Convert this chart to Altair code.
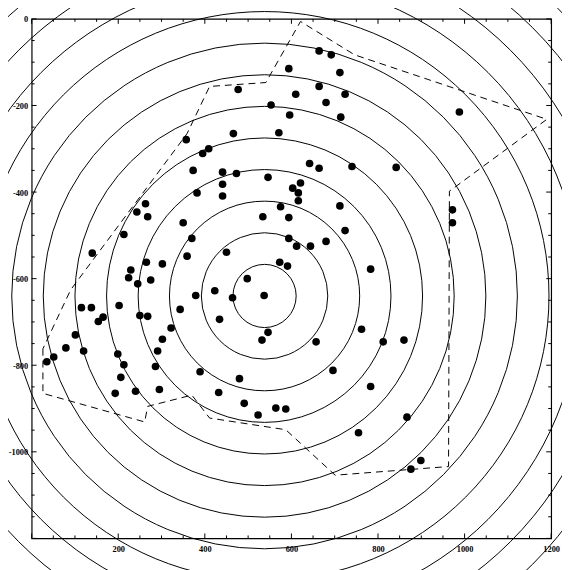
import math
import altair as alt
import pandas as pd

# ---- data ----
dot_x = [664, 692, 594, 712, 664, 477, 610, 724, 680, 553, 988, 596, 714, 571, 466, 357, 409, 395,
         642, 664, 842, 373, 441, 473, 740, 546, 621, 603, 441, 616, 382, 441, 616, 712, 575, 972,
         972, 534, 594, 350, 724, 370, 594, 680, 612, 644, 450, 359, 573, 591, 783, 498, 423, 379,
         464, 537, 343, 434, 762, 546, 532, 657, 389, 480,
         140, 213, 243, 268, 263, 229, 224, 265, 302, 245, 275, 115, 138, 165, 154, 202, 250, 268,
         322, 302, 101, 79, 120, 35, 51, 199, 291, 213, 286, 206, 295, 240, 193,
         491, 523, 564, 587, 432, 860, 812, 783, 867, 755, 876, 899, 696]
dot_y = [-74, -83, -115, -124, -156, -163, -174, -174, -193, -199, -215, -222, -227, -263, -265, -279, -300, -311,
         -334, -345, -343, -350, -354, -357, -341, -366, -379, -391, -382, -402, -402, -409, -420, -432, -434, -441,
         -471, -457, -459, -471, -489, -507, -507, -514, -525, -525, -539, -548, -562, -571, -578, -600, -628, -639,
         -644, -639, -671, -694, -717, -724, -742, -746, -815, -831,
         -541, -498, -446, -457, -427, -580, -598, -562, -566, -612, -603, -667, -667, -689, -699, -662, -685, -687,
         -714, -740, -730, -760, -767, -792, -781, -774, -767, -799, -803, -828, -856, -860, -865,
         -888, -915, -899, -901, -863, -742, -746, -849, -920, -956, -1040, -1020, -812]

poly_x = [26, 26, 261, 268, 370, 411, 587, 701, 963, 965, 1190, 746, 621, 541, 411, 359, 90, 26]
poly_y = [-762, -865, -931, -895, -869, -922, -949, -1054, -1034, -398, -232, -83, -6, -147, -156, -265, -626, -762]

center_x = 538
center_y = -640
ring_r = [73, 146, 219, 292, 365, 438, 511, 584, 657, 730, 803, 876, 949, 1022]

x_major = [0, 200, 400, 600, 800, 1000, 1200]
y_major = [0, -200, -400, -600, -800, -1000, -1200]
x_minor = [v for v in range(0, 1201, 50) if v % 200 != 0]
y_minor = [-v for v in x_minor]
x_labels = [200, 400, 600, 800, 1000, 1200]
y_labels = [0, -200, -400, -600, -800, -1000]

W = 527
H = 527
FONT = "Liberation Serif"

xs = alt.Scale(domain=[0, 1200], nice=False, zero=False)
ys = alt.Scale(domain=[-1200, 0], nice=False, zero=False)

x_axis = alt.Axis(values=x_labels, ticks=False, domain=False, grid=False, title=None, format="d",
                  labelFont=FONT, labelFontWeight="bold", labelFontSize=8.5,
                  labelColor="black", labelPadding=6, labelFlush=False)
y_axis = alt.Axis(values=y_labels, ticks=False, domain=False, grid=False, title=None,
                  labelExpr="replace(format(datum.value, 'd'), '\u2212', '-')",
                  labelFont=FONT, labelFontWeight="bold", labelFontSize=8.5,
                  labelColor="black", labelPadding=4, labelFlush=False)

dots_df = pd.DataFrame({"x": dot_x, "y": dot_y})
poly_df = pd.DataFrame({"x": poly_x, "y": poly_y, "o": list(range(len(poly_x)))})
ring_df = pd.DataFrame({"r": ring_r, "cx": [center_x] * len(ring_r), "cy": [center_y] * len(ring_r)})

rings = alt.Chart(ring_df).mark_arc(
    theta=0, theta2=2 * math.pi, stroke="black", strokeWidth=1, fillOpacity=0, clip=False
).encode(
    x=alt.X("cx:Q", scale=xs, axis=x_axis),
    y=alt.Y("cy:Q", scale=ys, axis=y_axis),
    radius=alt.Radius("r:Q", stack=None,
                      scale=alt.Scale(type="linear", zero=True, domain=[0, 1200], range=[0, W])),
)

poly = alt.Chart(poly_df).mark_line(
    stroke="black", strokeWidth=1, strokeDash=[7, 5]
).encode(
    x=alt.X("x:Q", scale=xs, axis=x_axis),
    y=alt.Y("y:Q", scale=ys, axis=y_axis),
    order="o:Q",
)

dots = alt.Chart(dots_df).mark_circle(color="black", opacity=1, size=60).encode(
    x=alt.X("x:Q", scale=xs, axis=x_axis),
    y=alt.Y("y:Q", scale=ys, axis=y_axis),
)

def xticks(vals, length):
    df = pd.DataFrame({"v": vals})
    bottom = alt.Chart(df).mark_rule(color="black", strokeWidth=1).encode(
        x=alt.X("v:Q", scale=xs, axis=x_axis), y=alt.value(H), y2=alt.value(H - length))
    top = alt.Chart(df).mark_rule(color="black", strokeWidth=1).encode(
        x=alt.X("v:Q", scale=xs, axis=x_axis), y=alt.value(0), y2=alt.value(length))
    return [bottom, top]

def yticks(vals, length):
    df = pd.DataFrame({"v": vals})
    left = alt.Chart(df).mark_rule(color="black", strokeWidth=1).encode(
        y=alt.Y("v:Q", scale=ys, axis=y_axis), x=alt.value(0), x2=alt.value(length))
    right = alt.Chart(df).mark_rule(color="black", strokeWidth=1).encode(
        y=alt.Y("v:Q", scale=ys, axis=y_axis), x=alt.value(W), x2=alt.value(W - length))
    return [left, right]

layers = [rings, poly, dots] + xticks(x_major, 5) + xticks(x_minor, 3) + yticks(y_major, 5) + yticks(y_minor, 3)

chart = alt.layer(*layers).properties(
    width=W, height=H,
    autosize=alt.AutoSizeParams(type="none"),
    padding={"left": 24, "top": 7, "right": 11, "bottom": 28},
    background="white",
).configure_view(stroke="black", strokeWidth=1.2)

chart.save("out.html", embed_options={"renderer": "svg", "actions": False})
